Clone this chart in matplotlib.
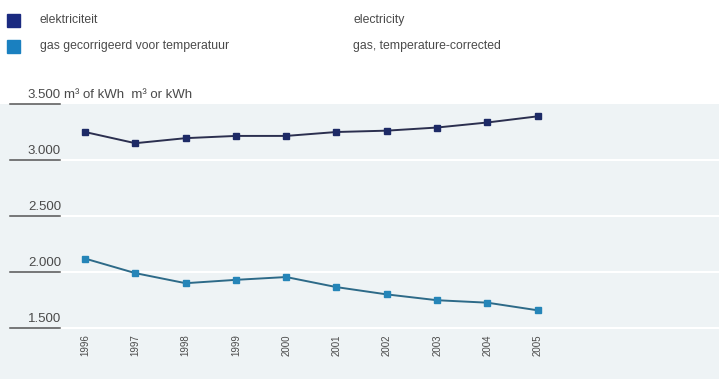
import matplotlib.pyplot as plt
from matplotlib.patches import Rectangle
from matplotlib.transforms import blended_transform_factory

# Data
years = [1996, 1997, 1998, 1999, 2000, 2001, 2002, 2003, 2004, 2005]
electricity = [3250, 3150, 3195, 3215, 3215, 3250, 3262, 3290, 3335, 3390]
gas = [2120, 1990, 1900, 1930, 1955, 1865, 1800, 1748, 1726, 1658]
ytick_values = [1500, 2000, 2500, 3000, 3500]
ytick_labels = ['1.500', '2.000', '2.500', '3.000', '3.500']
legend_nl = ['elektriciteit', 'gas gecorrigeerd voor temperatuur']
legend_en = ['electricity', 'gas, temperature-corrected']
unit_label = 'm³ of kWh  m³ or kWh'

W, H = 719, 379
panel_bg = '#eef3f5'
text_col = '#4a4a4a'
elec_line, elec_mark = '#2b2f4f', '#1d2a66'
gas_line, gas_mark = '#2d6a88', '#2585b8'

plt.rcParams['font.family'] = ['Liberation Sans', 'DejaVu Sans']

fig = plt.figure(figsize=(W / 100, H / 100), dpi=100)
fig.patch.set_facecolor('white')


def fx(px):
    return px / W


def fy(py):
    return 1 - py / H


# panel axes: spans from pixel y=104 to the bottom, full width
ax = fig.add_axes([0, 0, 1, fy(104)])
ax.set_facecolor(panel_bg)
for s in ax.spines.values():
    s.set_visible(False)
ax.set_xticks([])
ax.set_yticks([])

# 56 px per 500 units, 3500 at top edge; 50.3 px per year, 1996 at x=85
ax.set_ylim(1500 - (379 - 328) / 56 * 500, 3500)
ax.set_xlim(1996 - 85 / 50.3, 1996 + (W - 85) / 50.3)

trans = blended_transform_factory(ax.transAxes, ax.transData)
for v, lab in zip(ytick_values, ytick_labels):
    if v < 3500:
        ax.plot([fx(60), 1], [v, v], transform=trans, color='white', lw=1.5,
                zorder=1, clip_on=False)
    ax.plot([fx(10), fx(60)], [v, v], transform=trans, color='#555555', lw=1.1,
            zorder=2, clip_on=False)
    ax.text(fx(61), v + 25, lab, transform=trans, ha='right', va='bottom',
            fontsize=9.5, color=text_col, clip_on=False)

fig.text(fx(64), fy(104) + 2.5 / H, unit_label, ha='left',
         va='bottom', fontsize=9.5, color=text_col)

ax.plot(years, electricity, color=elec_line, lw=1.4, marker='s', ms=5,
        mfc=elec_mark, mec=elec_mark, zorder=3)
ax.plot(years, gas, color=gas_line, lw=1.4, marker='s', ms=5,
        mfc=gas_mark, mec=gas_mark, zorder=3)

# rotated year labels
label_y = 1500 - (345 - 328) / 56 * 500
for yr in years:
    ax.text(yr, label_y, str(yr), rotation=90, ha='center', va='center',
            fontsize=7, color=text_col)

# legend at the top
for i, (nl, en, c) in enumerate(zip(legend_nl, legend_en, ['#1a2a80', '#1a80c0'])):
    yc = [20, 46][i]
    fig.patches.append(Rectangle((fx(7), fy(yc + 7)), fx(13), 13 / H,
                                 transform=fig.transFigure, color=c))
    fig.text(fx(40), fy(yc), nl, ha='left', va='center', fontsize=8.8,
             color=text_col)
    fig.text(fx(353), fy(yc), en, ha='left', va='center', fontsize=8.8,
             color=text_col)

fig.savefig('out.png', dpi=100, facecolor='white')
